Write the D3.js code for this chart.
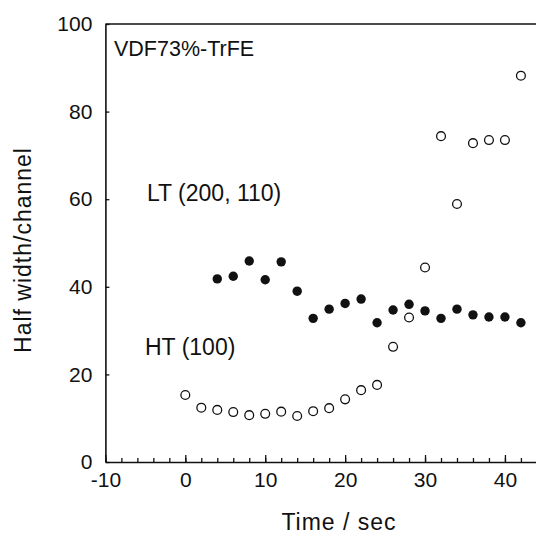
<!DOCTYPE html>
<html>
<head>
<meta charset="utf-8">
<script src="https://cdn.jsdelivr.net/npm/d3@7"></script>
<style>
  body { margin: 0; background: #fff; }
  svg text { font-family: "Liberation Sans", Arial, sans-serif; fill: #111; }
</style>
</head>
<body>
<svg id="chart"></svg>
<script>
// Time points (sec)
const timesHT = [0, 2, 4, 6, 8, 10, 12, 14, 16, 18, 20, 22, 24, 26, 28, 30, 32, 34, 36, 38, 40, 42];
const halfWidthHT = [15.3, 12.4, 11.9, 11.4, 10.7, 11.0, 11.5, 10.5, 11.6, 12.3, 14.3, 16.4, 17.6, 26.3, 33.0, 44.4, 74.4, 58.9, 72.8, 73.5, 73.5, 88.2];

const timesLT = [4, 6, 8, 10, 12, 14, 16, 18, 20, 22, 24, 26, 28, 30, 32, 34, 36, 38, 40, 42];
const halfWidthLT = [41.8, 42.4, 45.9, 41.6, 45.7, 39.0, 32.8, 34.9, 36.2, 37.2, 31.8, 34.7, 36.0, 34.5, 32.8, 34.9, 33.6, 33.1, 33.1, 31.8];

const xTicks = [-10, 0, 10, 20, 30, 40];
const yTicks = [0, 20, 40, 60, 80, 100];

const width = 536, height = 535;

const svg = d3.select("#chart")
    .attr("width", width)
    .attr("height", height);

// Scales
const x = d3.scaleLinear().domain([-10, 44]).range([105.4, 536.9]);
const y = d3.scaleLinear().domain([0, 100]).range([462, 24]);

// plain hyphen for negatives, like the original
const fmt = d => String(d);

// x axis: major ticks every 10, minor every 2, pointing inward
const xMinor = d3.range(-10, 44, 2);
svg.append("g")
    .attr("transform", `translate(0,${y(0)})`)
    .call(d3.axisBottom(x).tickValues(xMinor).tickSize(-4).tickFormat(""))
    .call(g => g.select(".domain").remove());

svg.append("g")
    .attr("class", "x-axis")
    .attr("transform", `translate(0,${y(0)})`)
    .call(d3.axisBottom(x).tickValues(xTicks).tickSize(-7).tickPadding(10).tickSizeOuter(0).tickFormat(fmt));

// y axis: major ticks inward
svg.append("g")
    .attr("class", "y-axis")
    .attr("transform", `translate(${x(-10)},0)`)
    .call(d3.axisLeft(y).tickValues(yTicks).tickSize(-4).tickPadding(13).tickSizeOuter(0).tickFormat(fmt));

svg.selectAll(".x-axis .tick text, .y-axis .tick text")
    .style("font-size", "21px")
    .style("font-family", "'Liberation Sans', Arial, sans-serif")
    .attr("fill", "#111");
svg.selectAll("line").attr("stroke", "#111").attr("stroke-width", 1.3);
svg.selectAll(".domain").attr("stroke", "#111").attr("stroke-width", 1.6);

// top frame line
svg.append("line")
    .attr("x1", x(-10)).attr("x2", width)
    .attr("y1", y(100)).attr("y2", y(100))
    .attr("stroke", "#111")
    .attr("stroke-width", 1.6);

// HT (100) - open circles
svg.append("g").selectAll("circle")
    .data(timesHT.map((t, i) => [t, halfWidthHT[i]]))
    .join("circle")
    .attr("cx", d => x(d[0]))
    .attr("cy", d => y(d[1]))
    .attr("r", 4.4)
    .attr("fill", "#fff")
    .attr("stroke", "#111")
    .attr("stroke-width", 1.3);

// LT (200, 110) - filled circles
svg.append("g").selectAll("circle")
    .data(timesLT.map((t, i) => [t, halfWidthLT[i]]))
    .join("circle")
    .attr("cx", d => x(d[0]))
    .attr("cy", d => y(d[1]))
    .attr("r", 4.7)
    .attr("fill", "#111");

// Annotations
svg.append("text").attr("x", 114).attr("y", 56).style("font-size", "21.5px").text("VDF73%-TrFE");
svg.append("text").attr("x", 147).attr("y", 201).style("font-size", "23px").text("LT (200, 110)");
svg.append("text").attr("x", 145).attr("y", 355).style("font-size", "23px").text("HT (100)");

// Axis titles
svg.append("text")
    .attr("x", 339)
    .attr("y", 530)
    .attr("text-anchor", "middle")
    .style("font-size", "23px")
    .style("letter-spacing", "1px")
    .text("Time / sec");

svg.append("text")
    .attr("transform", `translate(31,${250}) rotate(-90)`)
    .attr("text-anchor", "middle")
    .style("font-size", "23px")
    .style("letter-spacing", "1px")
    .text("Half width/channel");
</script>
</body>
</html>
